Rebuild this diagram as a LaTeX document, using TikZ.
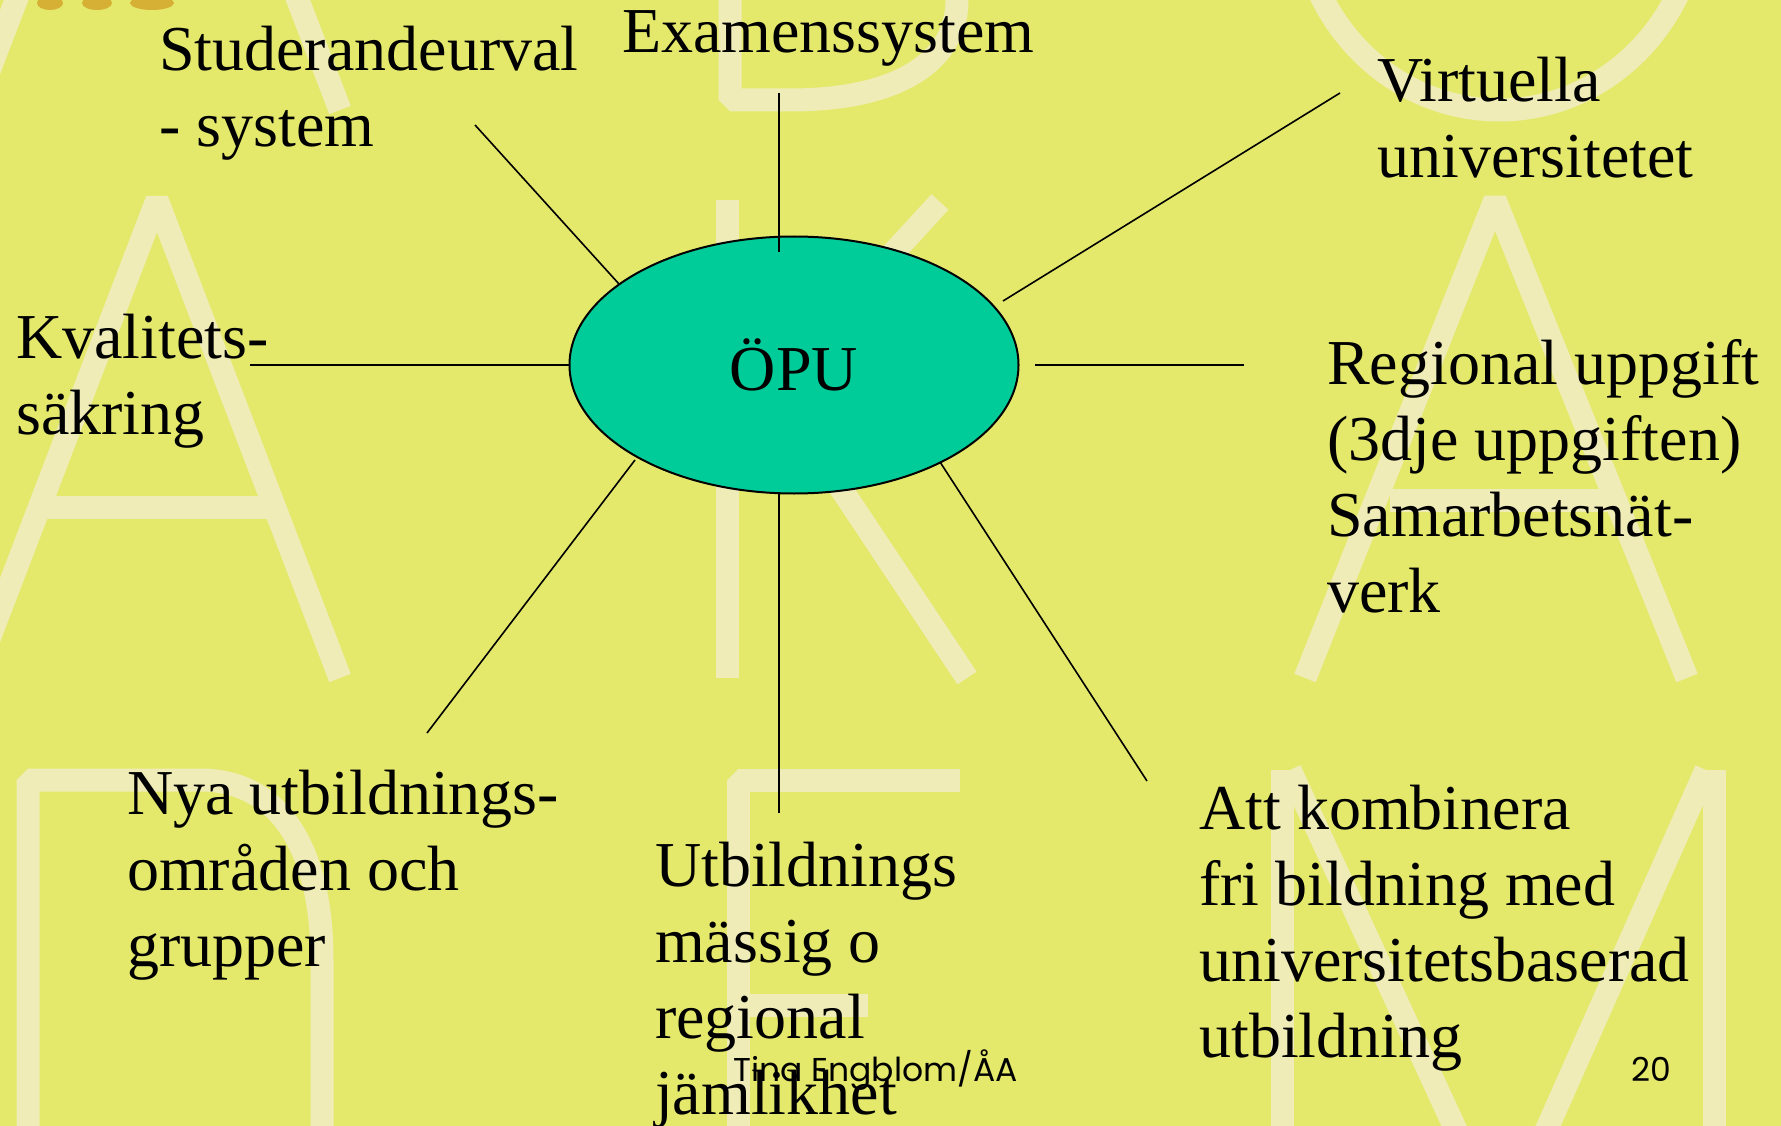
\documentclass[tikz,border=0pt]{standalone}
\usepackage{fontspec}
\setmainfont{Liberation Serif}
\newfontfamily\footfont{Poppins}
\usetikzlibrary{shapes.geometric}
\definecolor{bg}{RGB}{228,233,108}
\definecolor{wm}{RGB}{239,236,184}
\definecolor{opufill}{RGB}{0,204,153}
\definecolor{dotc}{RGB}{214,176,52}
\begin{document}
\begin{tikzpicture}[x=1pt,y=-1pt,
  lbl/.style={anchor=base west, align=left, inner sep=0pt, font=\fontsize{64}{76}\selectfont},
  spoke/.style={line width=1.6pt, draw=black},
  wmstroke/.style={draw=wm, line width=23pt, line join=bevel},
  foot/.style={anchor=base west, inner sep=0pt, font=\footfont\fontsize{33}{40}\selectfont}]

\useasboundingbox (0,0) rectangle (1781,1126);
\fill[bg] (0,0) rectangle (1781,1126);

% watermark letters
\begin{scope}
\clip (0,0) rectangle (1781,1126);
% top row: Å B O
\draw[wmstroke] (-26,110) -- (157,-368) -- (340,110);
\draw[wmstroke] (730,-60) -- (730,100) -- (790,100) .. controls (900,100) and (957,60) .. (957,0) -- (957,-30);
\draw[wmstroke] (1499,-100) ellipse [x radius=200, y radius=210];
% middle row: A K A
\draw[wmstroke] (-26,678) -- (157,200) -- (340,678);
\draw[wmstroke] (40,507) -- (272,507);
\draw[wmstroke] (727,200) -- (727,678);
\draw[wmstroke] (940,202) -- (735,425);
\draw[wmstroke] (772,385) -- (967,678);
\draw[wmstroke] (1305,678) -- (1495,200) -- (1687,678);
\draw[wmstroke] (1390,500) -- (1610,500);
% bottom row: D E M
\draw[wmstroke] (28,1140) -- (28,780) -- (200,780) .. controls (280,780) and (322,850) .. (322,960) -- (322,1140);
\draw[wmstroke] (738,1140) -- (738,780) -- (960,780);
\draw[wmstroke] (738,1005) -- (868,1005);
\draw[wmstroke] (1282,1140) -- (1282,770);
\draw[wmstroke] (1714,1140) -- (1714,770);
\draw[wmstroke] (1290,770) -- (1502,1230);
\draw[wmstroke] (1706,770) -- (1502,1230);
% small dots at top left
\fill[dotc] (50,3) ellipse [x radius=13, y radius=7];
\fill[dotc] (97,3) ellipse [x radius=15, y radius=7];
\fill[dotc] (152,3) ellipse [x radius=22, y radius=7];
\end{scope}

% centre
\node[ellipse, draw=black, line width=2pt, fill=opufill, minimum width=449pt, minimum height=257pt, inner sep=0pt,
      font=\fontsize{64}{76}\selectfont] (opu) at (794,365) {ÖPU};

% free ends and inner ends
\coordinate (s1) at (475,125);   \coordinate (e1) at (619,284);
\coordinate (s2) at (779,93);    \coordinate (e2) at (779,252);
\coordinate (s3) at (1340,93);   \coordinate (e3) at (1003,301);
\coordinate (s4) at (250,365);
\coordinate (s5) at (1244,365);  \coordinate (e5) at (1035,365);
\coordinate (s6) at (427,733);   \coordinate (e6) at (635,460);
\coordinate (s7) at (779,813);   \coordinate (e7) at (779,493);
\coordinate (s8) at (1147,781);  \coordinate (e8) at (940,462);

\draw[spoke] (s1) -- (e1);
\draw[spoke] (s2) -- (e2);
\draw[spoke] (s3) -- (e3);
\draw[spoke, line width=2.2pt] (s4) -- (opu.west);
\draw[spoke, line width=2.2pt] (s5) -- (e5);
\draw[spoke] (s6) -- (e6);
\draw[spoke] (s7) -- (e7);
\draw[spoke] (s8) -- (e8);

% labels (anchor = baseline of the last line)
\node[lbl] (stud) at (159,147) {Studerandeurval\\- system};
\node[lbl] (exam) at (622,53) {Examenssystem};
\node[lbl] (virt) at (1377,178) {Virtuella\\universitetet};
\node[lbl] (kval) at (16,434) {Kvalitets-\\säkring};
\node[lbl] (reg) at (1327,612) {Regional uppgift\\(3dje uppgiften)\\Samarbetsnät-\\verk};
\node[lbl] (nya) at (127,966) {Nya utbildnings-\\områden och\\grupper};
\node[lbl] (utb) at (655,1114) {Utbildnings\\mässig o\\regional\\jämlikhet};
\node[lbl] (att) at (1199,1057) {Att kombinera\\fri bildning med\\universitetsbaserad\\utbildning};

% footer
\node[foot] (author) at (733,1081) {Tina Engblom/ÅA};
\node[foot] (page) at (1631,1081) {20};
\end{tikzpicture}
\end{document}
